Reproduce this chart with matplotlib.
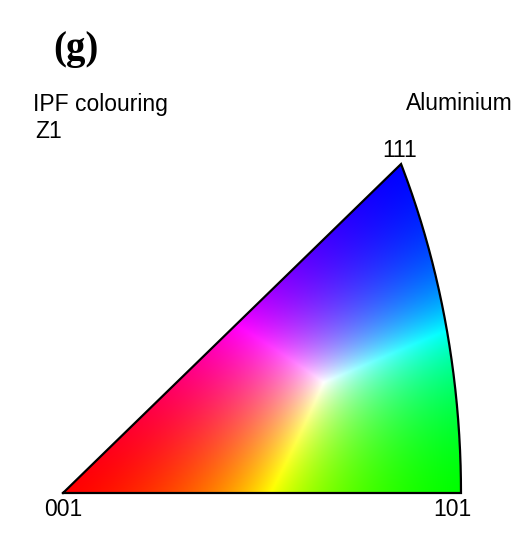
import numpy as np
import matplotlib
matplotlib.use("Agg")
import matplotlib.pyplot as plt

# Corner directions of the cubic standard triangle and their labels
corner_labels = ["001", "101", "111"]
corner_dirs = [[0, 0, 1], [1, 0, 1], [1, 1, 1]]
# label offsets in pixels (dx, dy) from the corner
label_offsets = [(0, -17), (-9, -17), (-1, 14)]

# relative weights of the red / green / blue components of the colour key
channel_weights = [1.0, 1.35, 1.75]
colour_power = 1.25

title_text = "(g)"
map_text = "IPF colouring"
axis_text = "Z1"
phase_text = "Aluminium"


def lambert(d):
    d = np.asarray(d, dtype=float)
    d = d / np.linalg.norm(d, axis=-1, keepdims=True)
    x, y, z = d[..., 0], d[..., 1], d[..., 2]
    k = np.sqrt(2.0 / (1.0 + z))
    return x * k, y * k


def ipf_colour(x, y, z):
    rgb = np.stack([z - x, x - y, y], axis=-1)
    rgb = np.clip(rgb, 0, None) * np.array(channel_weights)
    m = rgb.max(axis=-1, keepdims=True)
    m[m == 0] = 1
    return (rgb / m) ** colour_power


fig = plt.figure(figsize=(5.24, 5.50), dpi=100)
ax = fig.add_axes([0, 0, 1, 1])

# pixel scale of the original picture
sx, sy = 520.0, 506.0
x0_px, y0_px = 63.0, 493.0
xlim = (-x0_px / sx, (524 - x0_px) / sx)
ylim = (-(550 - y0_px) / sy, y0_px / sy)

# colour key of the triangle, computed on a grid by inverse projection
X, Y = np.meshgrid(np.linspace(xlim[0], xlim[1], 700),
                   np.linspace(ylim[0], ylim[1], 700))
R2 = X ** 2 + Y ** 2
f = np.sqrt(np.clip(1 - R2 / 4, 0, None))
dx, dy, dz = X * f, Y * f, 1 - R2 / 2
inside = (dy >= 0) & (dx >= dy) & (dz >= dx) & (R2 <= 2)
img = np.ones(X.shape + (4,))
img[..., :3] = ipf_colour(dx, dy, dz)
img[..., 3] = inside.astype(float)
ax.imshow(img, origin="lower", extent=[xlim[0], xlim[1], ylim[0], ylim[1]],
          interpolation="bilinear", aspect="auto")

# boundary: straight edges through 001 and the curved 101-111 great circle
t = np.linspace(0, 1, 200)
arc = np.stack([np.ones_like(t), t, np.ones_like(t)], axis=-1)
arc_x, arc_y = lambert(arc)
p001 = lambert(corner_dirs[0])
bx = np.concatenate([[float(p001[0])], arc_x, [float(p001[0])]])
by = np.concatenate([[float(p001[1])], arc_y, [float(p001[1])]])
ax.plot(bx, by, color="black", lw=1.6, solid_joinstyle="miter")

for lab, d, off in zip(corner_labels, corner_dirs, label_offsets):
    px, py = lambert(d)
    ax.annotate(lab, (float(px), float(py)), xytext=(off[0] * 0.72, off[1] * 0.72),
                textcoords="offset points", ha="center", va="center",
                fontsize=16.5, family="Liberation Sans")

ax.set_xlim(xlim)
ax.set_ylim(ylim)
ax.axis("off")

fig.text(76 / 524, 1 - 50 / 550, title_text, fontsize=28, fontweight="bold",
         family="Liberation Serif", ha="center", va="center")
fig.text(33 / 524, 1 - 104 / 550, map_text, fontsize=16.5,
         family="Liberation Sans", ha="left", va="center")
fig.text(35 / 524, 1 - 131 / 550, axis_text, fontsize=16.5,
         family="Liberation Sans", ha="left", va="center")
fig.text(513 / 524, 1 - 104 / 550, phase_text, fontsize=16.5,
         family="Liberation Sans", ha="right", va="center")

fig.savefig("out.png", dpi=100)
